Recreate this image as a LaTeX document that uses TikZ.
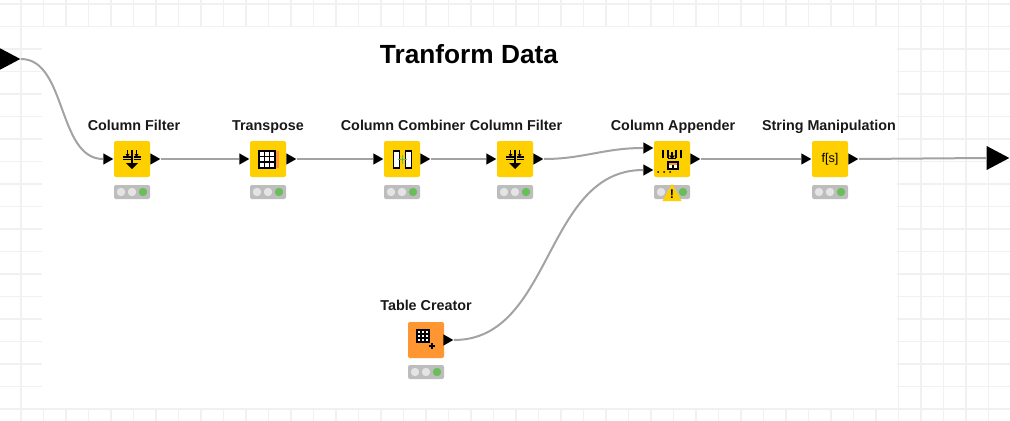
\documentclass[tikz,border=0pt]{standalone}
\usepackage{fontspec}
\setmainfont{Liberation Sans}
\usetikzlibrary{shapes.geometric}
\definecolor{knimeyellow}{HTML}{FFD000}
\definecolor{knimeorange}{HTML}{FF9632}
\definecolor{gridgray}{HTML}{F1F1F1}
\definecolor{edgegray}{HTML}{A3A3A3}
\definecolor{lightgray}{HTML}{BDBDBD}
\definecolor{lightoff}{HTML}{E4E4E4}
\definecolor{lightgreen}{HTML}{69BE5A}
\tikzset{
    tool/.style={rectangle,rounded corners=1.5pt,minimum size=27pt,inner sep=0pt,fill=knimeyellow},
    source/.style={tool,fill=knimeorange},
    caption/.style={font=\bfseries\fontsize{10.75pt}{12pt}\selectfont,text=black!90,inner sep=0pt,text height=8pt,text depth=2pt},
    port/.style={isosceles triangle,isosceles triangle stretches,fill=black,inner sep=0pt,
        minimum width=8.5pt,minimum height=7.5pt,anchor=apex},
    bigport/.style={port,minimum width=18pt,minimum height=17pt},
    edge/.style={draw=edgegray,line width=1.5pt},
    iconline/.style={draw=black,line width=0.8pt},
    lights/.pic={
        \node [rectangle,rounded corners=1.5pt,fill=lightgray,minimum width=27pt,minimum height=10.5pt,inner sep=0pt] (-box) at (0,0) {};
        \fill [lightoff] (-11,0) circle (4.2);
        \fill [lightoff] (0,0) circle (4.2);
        \fill [lightgreen] (11,0) circle (4.2);
    },
    filtericon/.pic={
        \draw [iconline] (-4.5,-9) -- (-4.5,-2);
        \draw [iconline] (4.5,-9) -- (4.5,-2);
        \draw [iconline] (0,-9) -- (0,5);
        \draw [iconline] (-9,-2) -- (-1.5,-2);
        \draw [iconline] (1.5,-2) -- (9,-2);
        \draw [iconline] (-9,0.5) -- (-1.5,0.5);
        \draw [iconline] (1.5,0.5) -- (9,0.5);
        \fill [black] (-6,4) -- (6,4) -- (0,10) -- cycle;
        \fill [black] (-6.5,-5) -- (-2.5,-5) -- (-4.5,-2) -- cycle;
        \fill [black] (2.5,-5) -- (6.5,-5) -- (4.5,-2) -- cycle;
    },
    transposeicon/.pic={
        \fill [white] (-9,-8) rectangle (7,9);
        \fill [knimeorange] (7,-8) rectangle (10.5,9);
        \draw [iconline] (-9,-8) rectangle (7,9);
        \draw [iconline] (-3.7,-8) -- (-3.7,9);
        \draw [iconline] (1.7,-8) -- (1.7,9);
        \draw [iconline] (-9,-2.5) -- (7,-2.5);
        \draw [iconline] (-9,3) -- (7,3);
    },
    combinericon/.pic={
        \fill [white] (-8.5,-8) rectangle (-2.5,9);
        \fill [white] (3.5,-8) rectangle (9.5,9);
        \draw [iconline] (-8.5,-8) rectangle (-2.5,9);
        \draw [iconline] (3.5,-8) rectangle (9.5,9);
        \draw [draw=lightgreen,line width=0.9pt] (-4,0.5) -- (5,0.5);
        \draw [draw=lightgreen,line width=0.9pt] (0.5,-4) -- (0.5,5);
    },
    appendericon/.pic={
        \draw [iconline] (-9,-9) -- (-9,-1);
        \draw [iconline] (-4,-9) -- (-4,-1);
        \draw [iconline] (4,-9) -- (4,-1);
        \draw [iconline] (9,-9) -- (9,-1);
        \draw [iconline] (-4,-0.5) -- (4,-0.5);
        \draw [iconline] (0,-7) -- (0,-2);
        \fill [black] (-3,-3.5) -- (3,-3.5) -- (0,0) -- cycle;
        \fill [white] (-4,3) rectangle (6,10);
        \fill [knimeorange] (-4,3) rectangle (6,5.5);
        \draw [iconline] (-4,3) rectangle (6,10);
        \draw [iconline] (1,5.5) -- (1,10);
        \foreach \px in {-14,-8,-2} \fill [black] (\px,13) circle (1);
    },
    tablecreatoricon/.pic={
        \fill [white] (-9,-10) rectangle (3,2);
        \draw [iconline] (-9,-10) rectangle (3,2);
        \draw [iconline] (-5,-10) -- (-5,2);
        \draw [iconline] (-1,-10) -- (-1,2);
        \draw [iconline] (-9,-6) -- (3,-6);
        \draw [iconline] (-9,-2) -- (3,-2);
        \draw [black,line width=1.5pt] (3,6) -- (9,6);
        \draw [black,line width=1.5pt] (6,3) -- (6,9);
    }
}
\begin{document}
\begin{tikzpicture}[x=0.75pt,y=-0.75pt]
    \useasboundingbox (0,0) rectangle (1010,421);
    % backdrop grid
    \foreach \gx in {0,...,44} \draw [gridgray,line width=1.1pt] (21+\gx*22.5,0) -- (21+\gx*22.5,421);
    \foreach \gy in {0,...,18} \draw [gridgray,line width=1.1pt] (0,4+\gy*22.5) -- (1010,4+\gy*22.5);
    \fill [white] (42,26.5) rectangle (897,408);

    \node [font=\bfseries\fontsize{19.7pt}{22pt}\selectfont,inner sep=0pt] (title) at (469,54) {Tranform Data};

    % nodes
    \node [tool] (colfilterA) at (132,159) {};
    \node [tool] (transpose) at (268,159) {};
    \node [tool] (combiner) at (402,159) {};
    \node [tool] (colfilterB) at (515,159) {};
    \node [tool] (appender) at (672,159) {};
    \node [tool,font=\fontsize{9.5pt}{10pt}\selectfont] (stringman) at (830,159) {f[s]};
    \node [source] (tablecreator) at (426,340) {};

    \pic at (132,159) {filtericon};
    \pic at (268,159) {transposeicon};
    \pic at (402,159) {combinericon};
    \pic at (515,159) {filtericon};
    \pic at (672,159) {appendericon};
    \pic at (426,340) {tablecreatoricon};

    \node [caption] (capA) at (134,126) {Column Filter};
    \node [caption] (capB) at (268,126) {Transpose};
    \node [caption] (capC) at (403,126) {Column Combiner};
    \node [caption] (capD) at (516,126) {Column Filter};
    \node [caption] (capE) at (673,126) {Column Appender};
    \node [caption] (capF) at (829,126) {String Manipulation};
    \node [caption] (capG) at (426,306) {Table Creator};

    \pic (lightsA) at (132,192) {lights};
    \pic (lightsB) at (268,192) {lights};
    \pic (lightsC) at (402,192) {lights};
    \pic (lightsD) at (515,192) {lights};
    \pic (lightsE) at (672,192) {lights};
    \pic (lightsF) at (830,192) {lights};
    \pic (lightsG) at (426,372) {lights};

    \node [isosceles triangle,isosceles triangle stretches,shape border rotate=90,fill=knimeyellow,inner sep=0pt,
        minimum width=14.5pt,minimum height=13pt] (warning) at (672,195.5) {};
    \node [font=\bfseries\fontsize{9.5pt}{10pt}\selectfont,inner sep=0pt] (warnmark) at (672,194) {!};

    % ports
    \node [bigport] (wfin) at (21,59) {};
    \node [bigport] (wfout) at (1010,158) {};
    \node [port] (aIn) at (114,159) {};
    \node [port] (aOut) at (161,159) {};
    \node [port] (bIn) at (250,159) {};
    \node [port] (bOut) at (297,159) {};
    \node [port] (cIn) at (384,159) {};
    \node [port] (cOut) at (431,159) {};
    \node [port] (dIn) at (497,159) {};
    \node [port] (dOut) at (544,159) {};
    \node [port] (eInA) at (654,148) {};
    \node [port] (eInB) at (654,170) {};
    \node [port] (eOut) at (701,159) {};
    \node [port] (fIn) at (812,159) {};
    \node [port] (fOut) at (859,159) {};
    \node [port] (gOut) at (454,340) {};

    % connectors
    \draw [edge] (wfin.apex) to [out=0,in=180,looseness=0.9] (aIn.west);
    \draw [edge] (aOut.apex) -- (bIn.west);
    \draw [edge] (bOut.apex) -- (cIn.west);
    \draw [edge] (cOut.apex) -- (dIn.west);
    \draw [edge] (dOut.apex) to [out=0,in=180] (eInA.west);
    \draw [edge] (gOut.apex) to [out=0,in=180,looseness=1] (eInB.west);
    \draw [edge] (eOut.apex) -- (fIn.west);
    \draw [edge] (fOut.apex) -- (wfout.west);
\end{tikzpicture}
\end{document}
